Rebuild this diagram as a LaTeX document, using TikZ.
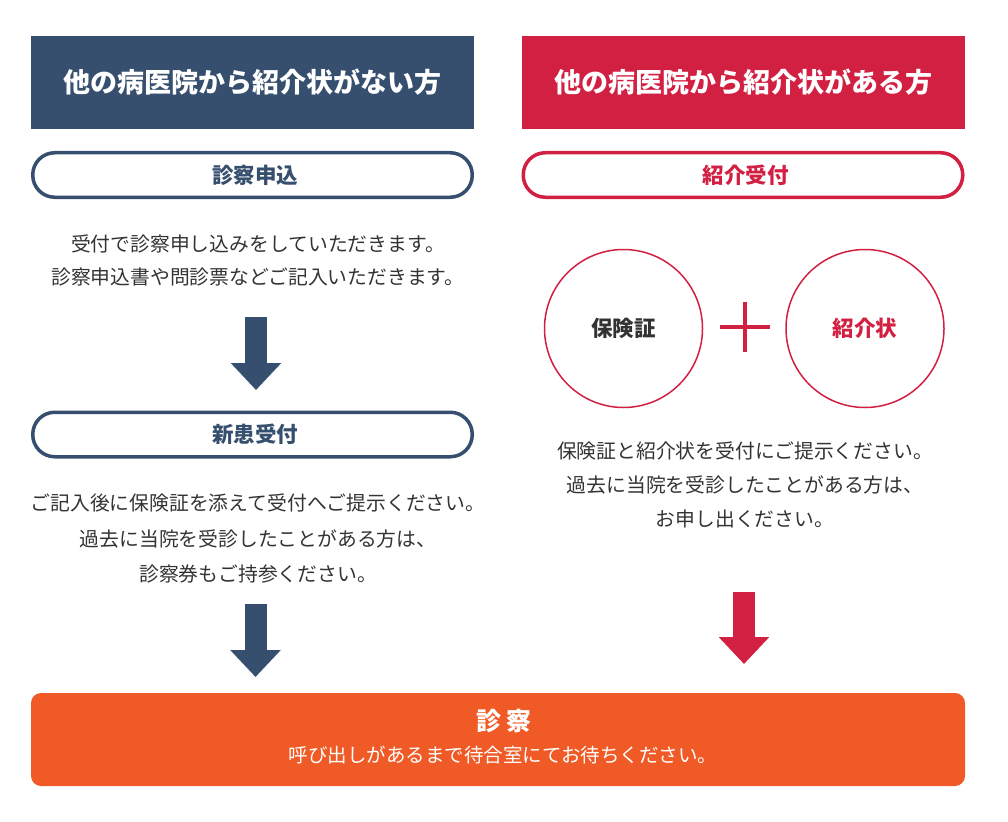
\documentclass[tikz,border=0pt]{standalone}
\usepackage{fontspec}
\setmainfont{Noto Sans CJK JP}
\usepackage{xcolor}
\usetikzlibrary{arrows.meta}
\definecolor{navy}{RGB}{54,79,110}
\definecolor{crim}{RGB}{209,32,66}
\definecolor{orng}{RGB}{240,90,38}
\definecolor{txt}{RGB}{51,51,51}

\begin{document}
\begin{tikzpicture}[x=1pt,y=-1pt,
  head/.style={minimum width=443pt,minimum height=93pt,inner sep=0pt,text=white,font=\fontsize{27}{31}\selectfont\bfseries},
  pill/.style={draw,line width=3.5pt,rounded corners=22pt,fill=white,minimum width=439.5pt,minimum height=44.5pt,inner sep=0pt,font=\fontsize{21.5}{25}\selectfont\bfseries},
  body/.style={align=center,text=txt,inner sep=0pt},
  doc/.style={circle,draw=crim,line width=1.5pt,minimum size=158pt,inner sep=0pt,font=\fontsize{21.5}{25}\selectfont\bfseries},
  fat/.style={line width=22pt,-{Triangle[length=27pt,width=49pt]}}]
\useasboundingbox (0,0) rectangle (1008,821);
% two columns
\node[head,fill=navy] (hl) at (252.5,82.5) {他の病医院から紹介状がない方};
\node[head,fill=crim] (hr) at (743,82.5) {他の病医院から紹介状がある方};
\node[pill,draw=navy,text=navy] (p1) at (252.5,175) {\hspace*{5pt}診察申込};
\node[pill,draw=crim,text=crim] (p2) at (743,175) {\hspace*{5pt}紹介受付};
\node[body,font=\fontsize{19.8}{33}\selectfont] (t1) at (258,260.5) {受付で診察申し込みをしていただきます。\\診察申込書や問診票などご記入いただきます。};
\node[pill,draw=navy,text=navy] (p3) at (252.5,434.5) {\hspace*{5pt}新患受付};
\node[body,font=\fontsize{19.8}{35.5}\selectfont] (t2) at (258,538.5) {ご記入後に保険証を添えて受付へご提示ください。\\過去に当院を受診したことがある方は、\\診察券もご持参ください。};
\node[doc,text=txt] (c1) at (623.5,328.5) {保険証};
\node[doc,text=crim] (c2) at (865,328.5) {紹介状};
\coordinate (plus) at (745,327);
\draw[crim,line width=4pt] (plus) +(-25,0) -- +(25,0) (plus) +(0,-25) -- +(0,25);
\node[body,font=\fontsize{19.8}{34}\selectfont] (t3) at (745,484.5) {保険証と紹介状を受付にご提示ください。\\過去に当院を受診したことがある方は、\\お申し出ください。};
% arrows
\coordinate (a1) at (256,317); \coordinate (a1e) at (256,390);
\coordinate (a2) at (255.5,604); \coordinate (a2e) at (255.5,677);
\coordinate (a3) at (744,592); \coordinate (a3e) at (744,664);
\draw[fat,navy] (a1) -- (a1e);
\draw[fat,navy] (a2) -- (a2e);
\draw[fat,crim] (a3) -- (a3e);
% consultation
\node[fill=orng,rounded corners=10pt,minimum width=934pt,minimum height=93pt,inner sep=0pt] (sk) at (498,739.5) {};
\node[text=white,font=\fontsize{25}{30}\selectfont\bfseries] (skt) at (504,721) {診 察};
\node[text=white,font=\fontsize{19.5}{24}\selectfont] (sks) at (503,755) {呼び出しがあるまで待合室にてお待ちください。};
\end{tikzpicture}
\end{document}
